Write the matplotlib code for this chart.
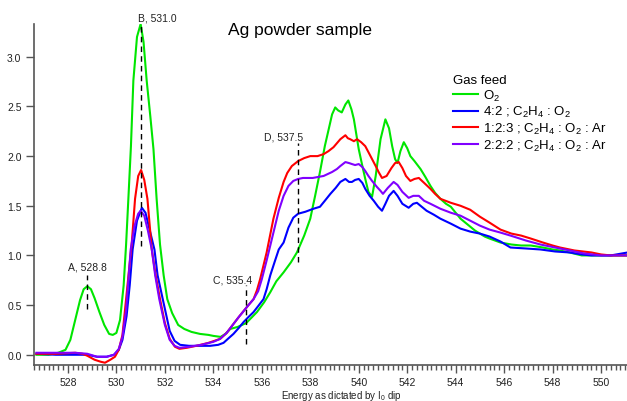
import matplotlib
matplotlib.use("Agg")
import matplotlib.pyplot as plt
from matplotlib.ticker import MultipleLocator

plt.rcParams['font.family'] = ['Liberation Sans', 'DejaVu Sans']
plt.rcParams['mathtext.default'] = 'regular'

# --- data (energy in eV, normalised intensity) ---
e_o2 = [526.7, 527.2, 527.6, 527.9, 528.1, 528.3, 528.5, 528.65, 528.8, 528.95,
        529.1, 529.3, 529.5, 529.7, 529.85, 530.0, 530.15, 530.3, 530.4, 530.5,
        530.6, 530.7, 530.85, 531.0, 531.12, 531.25, 531.4, 531.53, 531.66, 531.8,
        531.95, 532.1, 532.3, 532.55, 532.8, 533.1, 533.45, 533.8, 534.0, 534.3,
        534.5, 534.7, 535.0, 535.36, 535.8, 536.1, 536.35, 536.6, 536.9, 537.2,
        537.45, 537.75, 538.0, 538.2, 538.4, 538.6, 538.76, 538.9, 539.03, 539.15,
        539.3, 539.45, 539.57, 539.7, 539.8, 539.9, 540.0, 540.15, 540.27, 540.4,
        540.55, 540.7, 540.9, 541.1, 541.25, 541.38, 541.5, 541.6, 541.72, 541.86,
        542.0, 542.13, 542.3, 542.55, 542.75, 542.96, 543.15, 543.37, 543.6, 543.8,
        544.0, 544.2, 544.4, 544.6, 544.8, 545.0, 545.2, 545.4, 545.85, 546.3,
        546.7, 547.1, 547.6, 548.0, 548.3, 548.7, 549.2, 549.6, 550.0, 550.5, 551.1]
i_o2 = [0.0, 0.0, 0.02, 0.05, 0.15, 0.35, 0.55, 0.66, 0.69, 0.66,
        0.57, 0.43, 0.30, 0.21, 0.20, 0.22, 0.35, 0.70, 1.11, 1.60,
        2.10, 2.76, 3.20, 3.33, 3.15, 2.76, 2.40, 2.07, 1.57, 1.11,
        0.80, 0.56, 0.42, 0.30, 0.26, 0.23, 0.21, 0.20, 0.19, 0.18,
        0.21, 0.26, 0.28, 0.32, 0.43, 0.53, 0.63, 0.74, 0.83, 0.93,
        1.03, 1.20, 1.37, 1.60, 1.84, 2.10, 2.27, 2.42, 2.49, 2.46,
        2.44, 2.52, 2.56, 2.47, 2.37, 2.22, 2.07, 1.90, 1.77, 1.64,
        1.59, 1.80, 2.17, 2.37, 2.28, 2.10, 1.97, 1.93, 2.05, 2.14,
        2.08, 2.00, 1.95, 1.87, 1.79, 1.70, 1.63, 1.57, 1.52, 1.49,
        1.43, 1.37, 1.33, 1.29, 1.25, 1.22, 1.19, 1.17, 1.13, 1.11,
        1.10, 1.10, 1.08, 1.06, 1.05, 1.03, 1.00, 1.00, 1.00, 1.00, 1.00]

e_42 = [526.7, 527.5, 528.3, 528.8, 529.2, 529.6, 529.9, 530.1, 530.25, 530.42,
        530.55, 530.67, 530.85, 531.05, 531.2, 531.4, 531.57, 531.7, 531.94, 532.2,
        532.4, 532.63, 533.0, 533.5, 533.87, 534.2, 534.42, 534.6, 534.83, 535.05,
        535.25, 535.45, 535.66, 535.85, 536.07, 536.2, 536.35, 536.55, 536.7, 536.9,
        537.1, 537.3, 537.5, 537.8, 538.13, 538.4, 538.6, 538.83, 539.05, 539.24,
        539.45, 539.6, 539.72, 539.85, 540.0, 540.15, 540.27, 540.45, 540.62, 540.8,
        540.96, 541.1, 541.25, 541.44, 541.6, 541.8, 542.06, 542.25, 542.4, 542.6,
        542.8, 543.1, 543.37, 543.8, 544.2, 544.6, 545.0, 545.4, 545.85, 546.26,
        546.9, 547.5, 548.1, 548.7, 549.2, 549.6, 550.4, 551.1]
i_42 = [0.01, 0.0, 0.0, 0.0, -0.02, -0.02, 0.0, 0.05, 0.15, 0.39,
        0.70, 1.06, 1.35, 1.48, 1.43, 1.23, 1.06, 0.80, 0.53, 0.24,
        0.14, 0.10, 0.09, 0.09, 0.09, 0.10, 0.12, 0.16, 0.21, 0.27,
        0.33, 0.38, 0.43, 0.49, 0.56, 0.66, 0.80, 0.95, 1.06, 1.13,
        1.28, 1.38, 1.42, 1.44, 1.47, 1.49, 1.55, 1.62, 1.68, 1.74,
        1.77, 1.74, 1.74, 1.76, 1.77, 1.73, 1.67, 1.60, 1.55, 1.49,
        1.45, 1.52, 1.60, 1.65, 1.60, 1.52, 1.48, 1.52, 1.53, 1.49,
        1.45, 1.41, 1.37, 1.32, 1.27, 1.24, 1.22, 1.19, 1.14, 1.08,
        1.07, 1.06, 1.04, 1.03, 1.01, 1.00, 1.00, 1.03]

e_123 = [526.7, 527.5, 528.3, 528.6, 528.8, 529.1, 529.35, 529.53, 529.75, 529.94,
         530.1, 530.25, 530.4, 530.52, 530.63, 530.77, 530.9, 531.02, 531.15, 531.28,
         531.46, 531.62, 531.8, 532.0, 532.2, 532.42, 532.6, 532.9, 533.3, 533.8,
         534.28, 534.55, 534.83, 535.05, 535.25, 535.45, 535.66, 535.8, 535.93, 536.2,
         536.48, 536.7, 536.9, 537.05, 537.24, 537.5, 537.75, 538.0, 538.3, 538.55,
         538.75, 538.96, 539.1, 539.24, 539.45, 539.55, 539.65, 539.8, 539.93, 540.1,
         540.27, 540.4, 540.55, 540.7, 540.82, 540.96, 541.15, 541.35, 541.5, 541.65,
         541.8, 541.95, 542.13, 542.3, 542.48, 542.7, 542.96, 543.15, 543.37, 543.8,
         544.2, 544.6, 545.0, 545.4, 545.85, 546.3, 546.7, 547.1, 547.6, 548.0,
         548.3, 548.9, 549.6, 550.0, 550.4, 551.1]
i_123 = [0.01, 0.01, 0.02, 0.01, -0.01, -0.05, -0.07, -0.08, -0.05, -0.02,
         0.05, 0.20, 0.56, 0.85, 1.11, 1.57, 1.80, 1.86, 1.76, 1.57,
         1.06, 0.80, 0.56, 0.32, 0.16, 0.08, 0.06, 0.07, 0.09, 0.12,
         0.16, 0.22, 0.31, 0.38, 0.44, 0.50, 0.56, 0.65, 0.76, 1.03,
         1.37, 1.58, 1.74, 1.83, 1.90, 1.95, 1.98, 2.00, 2.00, 2.02,
         2.05, 2.09, 2.13, 2.17, 2.21, 2.18, 2.17, 2.15, 2.17, 2.14,
         2.10, 2.04, 1.97, 1.90, 1.84, 1.78, 1.80, 1.88, 1.93, 1.94,
         1.88, 1.80, 1.75, 1.77, 1.78, 1.73, 1.67, 1.62, 1.57, 1.53,
         1.50, 1.46, 1.39, 1.33, 1.26, 1.22, 1.20, 1.17, 1.13, 1.10,
         1.08, 1.05, 1.03, 1.01, 1.00, 1.00]

e_222 = [526.7, 527.5, 528.3, 528.8, 529.2, 529.6, 529.9, 530.1, 530.25, 530.4,
         530.59, 530.75, 530.9, 531.0, 531.15, 531.3, 531.46, 531.6, 531.77, 532.0,
         532.2, 532.4, 532.6, 533.0, 533.5, 534.0, 534.28, 534.55, 534.83, 535.05,
         535.25, 535.45, 535.66, 535.85, 536.0, 536.2, 536.5, 536.7, 536.9, 537.1,
         537.3, 537.5, 537.7, 538.1, 538.55, 538.9, 539.1, 539.24, 539.45, 539.6,
         539.72, 539.85, 540.0, 540.15, 540.27, 540.4, 540.55, 540.75, 540.9, 541.0,
         541.2, 541.44, 541.6, 541.8, 542.06, 542.25, 542.48, 542.7, 542.96, 543.37,
         543.8, 544.2, 544.6, 545.0, 545.4, 545.85, 546.26, 546.9, 547.5, 548.1,
         548.7, 549.3, 550.0, 550.5, 551.1]
i_222 = [0.02, 0.02, 0.02, 0.01, -0.02, -0.02, 0.0, 0.06, 0.18, 0.45,
         1.06, 1.30, 1.42, 1.45, 1.40, 1.25, 1.06, 0.80, 0.56, 0.30,
         0.15, 0.09, 0.07, 0.08, 0.10, 0.13, 0.16, 0.22, 0.31, 0.38,
         0.44, 0.50, 0.56, 0.64, 0.76, 0.95, 1.25, 1.45, 1.60, 1.70,
         1.75, 1.77, 1.78, 1.78, 1.80, 1.84, 1.87, 1.90, 1.94, 1.93,
         1.92, 1.91, 1.92, 1.89, 1.85, 1.80, 1.75, 1.69, 1.65, 1.62,
         1.68, 1.74, 1.71, 1.64, 1.58, 1.60, 1.60, 1.55, 1.52, 1.47,
         1.43, 1.40, 1.35, 1.30, 1.26, 1.23, 1.20, 1.15, 1.11, 1.08,
         1.05, 1.02, 1.00, 1.00, 1.00]

series = [
    (e_o2, i_o2, '#00e600', r'O$_2$'),
    (e_42, i_42, '#0000ff', r'4:2 ; C$_2$H$_4$ : O$_2$'),
    (e_123, i_123, '#ff0000', r'1:2:3 ; C$_2$H$_4$ : O$_2$ : Ar'),
    (e_222, i_222, '#8000ff', r'2:2:2 ; C$_2$H$_4$ : O$_2$ : Ar'),
]

# marked features: label, energy, line from/to, text position
marks = [
    ('A, 528.8', 528.8, 0.46, 0.80, 528.81, 0.885),
    ('B, 531.0', 531.0, 1.09, 3.33, 531.68, 3.40),
    ('C, 535.4', 535.36, 0.11, 0.70, 534.78, 0.755),
    ('D, 537.5', 537.5, 0.93, 2.13, 536.91, 2.197),
]

fig = plt.figure(figsize=(6.27, 4.02), dpi=100)
ax = fig.add_axes([34 / 627, 1 - 365.7 / 402, 593 / 627, 340.7 / 402])

for e, i, c, lab in series:
    ax.plot(e, i, color=c, lw=1.5, label=lab)

for txt, x, y0, y1, tx, ty in marks:
    ax.plot([x, x], [y0, y1], color='black', lw=1, ls=(0, (4, 3)), clip_on=False)
    ax.text(tx, ty, txt, ha='center', va='center', fontsize=7.5, color='#222222',
            clip_on=False)

ax.set_xlim(526.6, 551.07)
ax.set_ylim(-0.1, 3.33)

for s in ['top', 'right']:
    ax.spines[s].set_visible(False)
for s in ['left', 'bottom']:
    ax.spines[s].set_color('#555555')
    ax.spines[s].set_linewidth(1.2)

ax.xaxis.set_major_locator(MultipleLocator(2))
ax.xaxis.set_minor_locator(MultipleLocator(0.2))
ax.yaxis.set_major_locator(MultipleLocator(0.5))
ax.yaxis.set_major_formatter(plt.FormatStrFormatter('%.1f'))
ax.tick_params(axis='x', which='major', length=5.5, width=1, pad=3, labelsize=7.5,
               color='#555555', labelcolor='#222222')
ax.tick_params(axis='x', which='minor', length=3.5, width=1, color='#555555')
ax.tick_params(axis='y', which='major', length=6, width=1, pad=3, labelsize=7.5,
               color='#555555', labelcolor='#222222')

ax.set_xlabel(r'Energy as dictated by I$_0$ dip', fontsize=7, color='#222222', va='center')
ax.xaxis.set_label_coords(0.519, -0.089)

fig.text(300.5 / 627, 1 - 30 / 402, 'Ag powder sample', ha='center', va='center',
         fontsize=12.5, color='black')

leg = ax.legend(title='Gas feed', loc='upper left',
                bbox_to_anchor=(453 / 627, 1 - 75 / 402), bbox_transform=fig.transFigure,
                frameon=False, fontsize=9.5, title_fontsize=9.5, borderpad=0,
                borderaxespad=0, handlelength=1.9, handletextpad=0.4, labelspacing=0.12,
                alignment='left')

fig.savefig('out.png', dpi=100)
